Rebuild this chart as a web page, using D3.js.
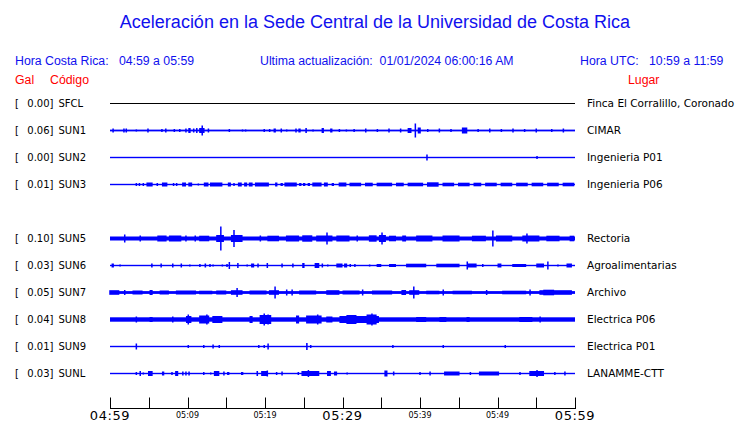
<!DOCTYPE html>
<html><head><meta charset="utf-8">
<script src="https://cdn.jsdelivr.net/npm/d3@7"></script>
<style>
html,body{margin:0;padding:0;background:#fff;}
svg{display:block;}
</style></head>
<body>
<script>
// ---------- DATA ----------
const stations = ["SFCL","SUN1","SUN2","SUN3","SUN4","SUN5","SUN6","SUN7","SUN8","SUN9","SUNL"];
const peakGal = ["0.00","0.06","0.00","0.01",null,"0.10","0.03","0.05","0.04","0.01","0.03"];
const places = ["Finca El Corralillo, Coronado","CIMAR","Ingenieria P01","Ingenieria P06",null,"Rectoria","Agroalimentarias","Archivo","Electrica P06","Electrica P01","LANAMME-CTT"];
// background noise half-amplitude (relative units) for each station
const noise = [0.5,0.9,0.7,0.7,null,2.0,0.7,1.4,2.2,0.7,0.7];
// bursts: [start minute, end minute, half amplitude (relative units)]
const sfclEvents = [];
const sun1Events = [[0.4,0.4,2],[1.8,1.8,2],[2.1,2.1,2],[3.4,3.4,1],[4.9,4.9,2],[6.7,6.7,1.5],[7.2,7.2,2],[8.3,8.3,1.5],[9.0,9.0,1.5],[9.8,9.8,2],[10.2,10.5,2.5],[10.8,10.8,2],[11.2,11.2,2.5],[11.6,12.3,2.5],[11.9,11.9,5],[12.7,12.7,2],[15.4,15.4,1.5],[17.1,17.1,1],[17.5,17.5,1],[19.9,19.9,1.5],[20.6,20.6,1.5],[21.2,21.5,2],[22.1,22.1,2],[22.8,22.8,1],[24.0,24.0,2],[24.4,24.7,2],[25.3,25.5,2.5],[26.2,26.2,1],[27.4,27.7,2.5],[28.5,28.8,2],[29.6,29.6,1.5],[30.5,30.5,1],[31.5,31.5,1.5],[33.0,33.0,2],[34.5,34.5,1.5],[36.0,36.0,2],[37.5,37.5,2],[38.5,39.0,2.5],[39.4,39.4,7],[39.8,40.2,3],[41.0,41.0,1.5],[42.5,42.5,2],[44.0,44.0,1.5],[45.5,46.2,3],[47.5,47.5,1.5],[49.0,49.0,2],[50.5,50.5,1.5],[52.0,52.0,2],[53.5,53.5,1.5],[55.0,55.0,2],[57.0,57.0,1.5],[58.5,58.5,2]];
const sun2Events = [[40.9,40.9,3],[55.1,55.1,1.5]];
const sun3Events = [[3.4,3.5,1.5],[3.8,3.9,1.5],[4.3,4.4,1.5],[4.8,5.6,2],[6.1,6.3,1.5],[6.8,7.5,2],[8.2,8.3,1.5],[8.6,8.7,1.5],[9.4,9.9,2],[10.2,10.7,2],[11.4,11.5,1],[12.2,12.8,2],[13.0,14.6,2],[15.3,15.7,2],[16.0,16.1,1.5],[16.6,17.1,2],[17.4,17.8,2],[18.0,18.5,2],[18.8,20.6,2],[21.4,21.7,2],[22.1,22.4,1.5],[22.6,24.2,2],[24.5,24.8,1.5],[25.0,25.3,1.5],[25.6,25.9,1.5],[26.2,27.4,2],[27.7,28.2,2],[28.7,29.0,1.5],[29.6,30.6,2],[31.0,32.5,1.8],[33.0,34.0,1.8],[34.5,36.5,1.8],[37.0,38.0,1.8],[38.5,40.5,1.8],[41.0,42.5,2.2],[43.0,44.5,1.8],[45.0,46.5,1.8],[47.0,48.0,1.8],[48.5,50.0,1.8],[50.5,52.0,1.8],[52.5,54.0,1.8],[54.5,56.0,1.8],[56.5,58.0,1.8],[58.5,60.0,1.8]];
const sun4Events = null;
const sun5Events = [[1.9,1.9,4],[3.9,3.9,3],[6.2,7.4,3],[7.7,9.3,3],[9.8,9.8,3],[11.0,11.0,3],[11.6,12.9,2.8],[13.8,14.8,3.5],[14.3,14.3,12],[15.7,17.2,3.5],[16.0,16.0,8.5],[19.4,19.4,3],[20.4,21.9,2.8],[22.8,24.5,3],[24.9,26.2,3.2],[26.7,28.8,3],[28.0,28.0,6],[29.3,31.0,3],[31.9,31.9,3],[33.5,34.5,3.2],[34.8,35.7,3.5],[35.1,35.1,6],[36.1,37.0,2.8],[37.8,38.3,3],[39.6,41.7,3],[43.0,45.2,3],[46.8,48.6,2.8],[49.4,49.4,8],[49.9,52.0,3],[53.3,55.5,3],[53.8,53.8,5],[56.4,58.1,2.8],[59.4,60.0,2.8]];
const sun6Events = [[0.3,0.6,2],[1.3,1.3,1],[5.4,5.6,2],[6.6,6.6,2],[8.1,8.1,2],[9.2,9.2,2],[10.3,10.3,1],[11.6,11.6,1.5],[12.3,12.5,2],[12.9,12.9,1.5],[13.3,13.3,1],[14.5,14.5,1],[15.1,15.1,1.5],[15.4,15.4,3.5],[16.5,16.5,2.5],[17.7,17.7,1],[18.3,18.7,2],[19.1,19.1,2],[20.3,20.3,2.5],[22.2,22.2,2],[23.6,23.6,2],[24.9,25.2,2.5],[26.5,27.1,2.5],[27.4,27.4,2],[28.1,28.1,1],[29.3,30.1,2],[30.3,30.7,2],[31.0,31.0,1.5],[31.6,31.6,1.5],[33.5,33.5,1],[34.5,35.1,1.5],[36.1,37.0,1.5],[38.3,40.9,1.8],[42.2,45.2,1.8],[46.1,46.1,4],[46.2,47.4,2],[48.1,48.1,1.5],[50.1,50.6,2],[52.0,53.8,1.5],[55.1,56.1,2],[56.5,56.5,4],[57.8,57.8,1],[59.0,59.7,2]];
const sun7Events = [[0.0,1.3,2.3],[1.9,1.9,2.5],[3.0,4.3,2],[5.2,5.6,2.5],[6.5,7.7,2],[8.6,11.2,2],[11.6,13.3,1.8],[13.8,15.1,2],[15.7,17.2,2.3],[16.4,16.4,4.5],[18.1,20.3,2],[20.6,21.9,2.3],[21.3,21.3,6],[22.8,22.8,3],[23.5,23.5,3],[24.5,26.7,2],[28.0,29.7,2.3],[30.1,32.3,2],[32.6,32.6,3],[33.9,36.5,2],[37.7,38.3,2.5],[38.7,40.0,2.3],[39.2,39.2,6],[40.9,42.6,1.8],[43.0,43.0,3],[44.3,46.8,1.8],[48.6,48.6,2.5],[50.7,53.8,1.8],[54.2,54.2,3],[55.5,59.7,2.3],[56.0,57.4,2.8]];
const sun8Events = [[3.4,3.4,3],[5.2,5.6,2.5],[8.1,8.1,3],[9.9,10.6,3.5],[10.1,10.1,5],[11.6,12.9,4],[12.5,12.5,5],[13.3,14.6,3.5],[18.1,18.5,3.5],[19.4,20.9,4.5],[19.9,19.9,6],[20.4,20.4,5],[24.1,24.5,4],[25.4,27.4,4],[26.8,26.8,5],[28.0,28.8,3],[29.7,34.8,3.5],[30.6,31.9,4.5],[33.2,34.5,5],[33.8,33.8,6],[39.6,40.9,2.5],[42.6,43.5,2.5],[46.1,46.5,2.5],[52.9,54.6,2.5],[55.5,55.5,3]];
const sun9Events = [[3.4,3.5,3],[10.1,10.1,1.5],[12.1,12.1,1.5],[13.3,13.3,2],[14.1,14.1,1.5],[19.2,19.2,1.5],[19.9,19.9,1.5],[20.4,20.5,3],[25.4,25.6,3.5],[25.9,25.9,1.5],[36.5,36.5,1.5],[43.0,43.0,1.5],[51.0,51.0,1.5]];
const sunlEvents = [[3.4,3.4,1.5],[3.9,3.9,2.5],[4.3,4.3,1],[5.0,5.6,2.5],[6.8,7.1,2],[8.0,8.0,1.5],[8.5,8.9,2.5],[9.4,9.4,2],[9.8,9.8,2],[10.2,10.2,2],[12.1,12.1,1.5],[13.0,13.0,1],[13.5,14.2,2.5],[14.7,14.7,2],[15.2,15.5,1.5],[17.0,17.3,1.5],[19.0,19.2,2.5],[19.6,20.4,2.5],[20.3,20.3,3],[21.5,21.5,1.5],[22.2,22.2,2],[24.3,24.3,1.5],[24.8,27.1,2.5],[25.6,25.6,3.5],[28.1,28.6,2.5],[29.0,29.4,2],[30.6,30.6,1],[35.5,35.9,3],[36.6,36.8,2],[40.0,40.0,1.5],[41.3,41.3,2],[43.2,45.2,2],[46.5,46.5,1.5],[47.7,50.3,2],[52.9,52.9,1.5],[54.2,56.1,2.5],[55.1,55.1,3.5],[57.4,57.4,1.5],[58.7,58.7,2]];
const events = [sfclEvents,sun1Events,sun2Events,sun3Events,sun4Events,sun5Events,sun6Events,sun7Events,sun8Events,sun9Events,sunlEvents];
const traceColors = ["#000000","#0000ff","#0000ff","#0000ff",null,"#0000ff","#0000ff","#0000ff","#0000ff","#0000ff","#0000ff"];
// time axis (minutes from 04:59)
const tickMinutes = [0,5,10,15,20,25,30,35,40,45,50,55,60];
const bigLabels = [[0,"04:59"],[30,"05:29"],[60,"05:59"]];
const smallLabels = [[10,"05:09"],[20,"05:19"],[40,"05:39"],[50,"05:49"]];

// ---------- DRAW ----------
const W = 740, H = 423;
const svg = d3.select("body").append("svg").attr("width",W).attr("height",H);
const blue = "#1010ee", red = "#ff0000";
const hf = "Liberation Sans, Arial, sans-serif";

svg.append("text").attr("x",375).attr("y",28).attr("text-anchor","middle")
  .attr("font-family",hf).attr("font-size",18).attr("fill",blue)
  .text("Aceleración en la Sede Central de la Universidad de Costa Rica");

const hdr = [[15,"Hora Costa Rica:   04:59 a 05:59"],[260,"Ultima actualización:  01/01/2024 06:00:16 AM"],[580,"Hora UTC:   10:59 a 11:59"]];
svg.selectAll("text.hdr").data(hdr).join("text").attr("class","hdr")
  .attr("x",d=>d[0]).attr("y",65).attr("xml:space","preserve").style("white-space","pre")
  .attr("font-family",hf).attr("font-size",12.3).attr("fill",blue)
  .text(d=>d[1]);
const sub = [[15,"Gal"],[50,"Código"],[628,"Lugar"]];
svg.selectAll("text.sub").data(sub).join("text").attr("class","sub")
  .attr("x",d=>d[0]).attr("y",84)
  .attr("font-family",hf).attr("font-size",12.3).attr("fill",red)
  .text(d=>d[1]);

const x = d3.scaleLinear().domain([0,60]).range([110,575]);
const y = d3.scaleBand().domain(stations).range([90,387]);
const amp = d3.scaleLinear().domain([0,1]).range([0,1]);

const rows = stations.map((s,i)=>({s,i,gal:peakGal[i],place:places[i],noise:noise[i],ev:events[i],color:traceColors[i]})).filter(d=>d.gal!==null);

const lf = "DejaVu Sans, sans-serif";
const g = svg.selectAll("g.row").data(rows).join("g").attr("class","row")
  .attr("transform",d=>`translate(0,${y(d.s)+y.bandwidth()/2})`);
g.append("text").attr("x",15).attr("y",3.5).attr("font-family",lf).attr("font-size",10).text("[");
g.append("text").attr("x",53.5).attr("y",3.5).attr("text-anchor","end").attr("font-family",lf).attr("font-size",10).text(d=>d.gal+"]");
g.append("text").attr("x",58.5).attr("y",3.5).attr("font-family",lf).attr("font-size",10).text(d=>d.s);
g.append("text").attr("x",587).attr("y",3.5).attr("font-family",lf).attr("font-size",10.5).text(d=>d.place);

g.append("rect").attr("x",x(0)).attr("width",x(60)-x(0))
  .attr("y",d=>-Math.max(amp(d.noise),0.5)).attr("height",d=>Math.max(2*amp(d.noise),1))
  .attr("fill",d=>d.color);
g.each(function(d){
  d3.select(this).selectAll("rect.ev").data(d.ev).join("rect").attr("class","ev")
    .attr("x",e=>x(e[0])-0.75).attr("width",e=>Math.max(x(e[1])-x(e[0]),1.5))
    .attr("y",e=>-amp(e[2])).attr("height",e=>2*amp(e[2])).attr("fill",d.color);
});

// axis
const axisY = 408.5;
const ax = svg.append("g").attr("transform",`translate(0,${axisY})`);
ax.append("line").attr("x1",x(0)).attr("x2",x(60)+1).attr("stroke","#000").attr("stroke-width",1);
ax.selectAll("line.tk").data(tickMinutes).join("line").attr("class","tk")
  .attr("x1",d=>Math.round(x(d))+0.5).attr("x2",d=>Math.round(x(d))+0.5).attr("y1",-11).attr("y2",0).attr("stroke","#000");
ax.selectAll("text.big").data(bigLabels).join("text").attr("class","big")
  .attr("x",d=>x(d[0])).attr("y",11.5).attr("text-anchor","middle")
  .attr("font-family",lf).attr("font-size",13).attr("letter-spacing",0.6).text(d=>d[1]);
ax.selectAll("text.sm").data(smallLabels).join("text").attr("class","sm")
  .attr("x",d=>x(d[0])).attr("y",9).attr("text-anchor","middle")
  .attr("font-family",lf).attr("font-size",8).text(d=>d[1]);
</script>
</body></html>
